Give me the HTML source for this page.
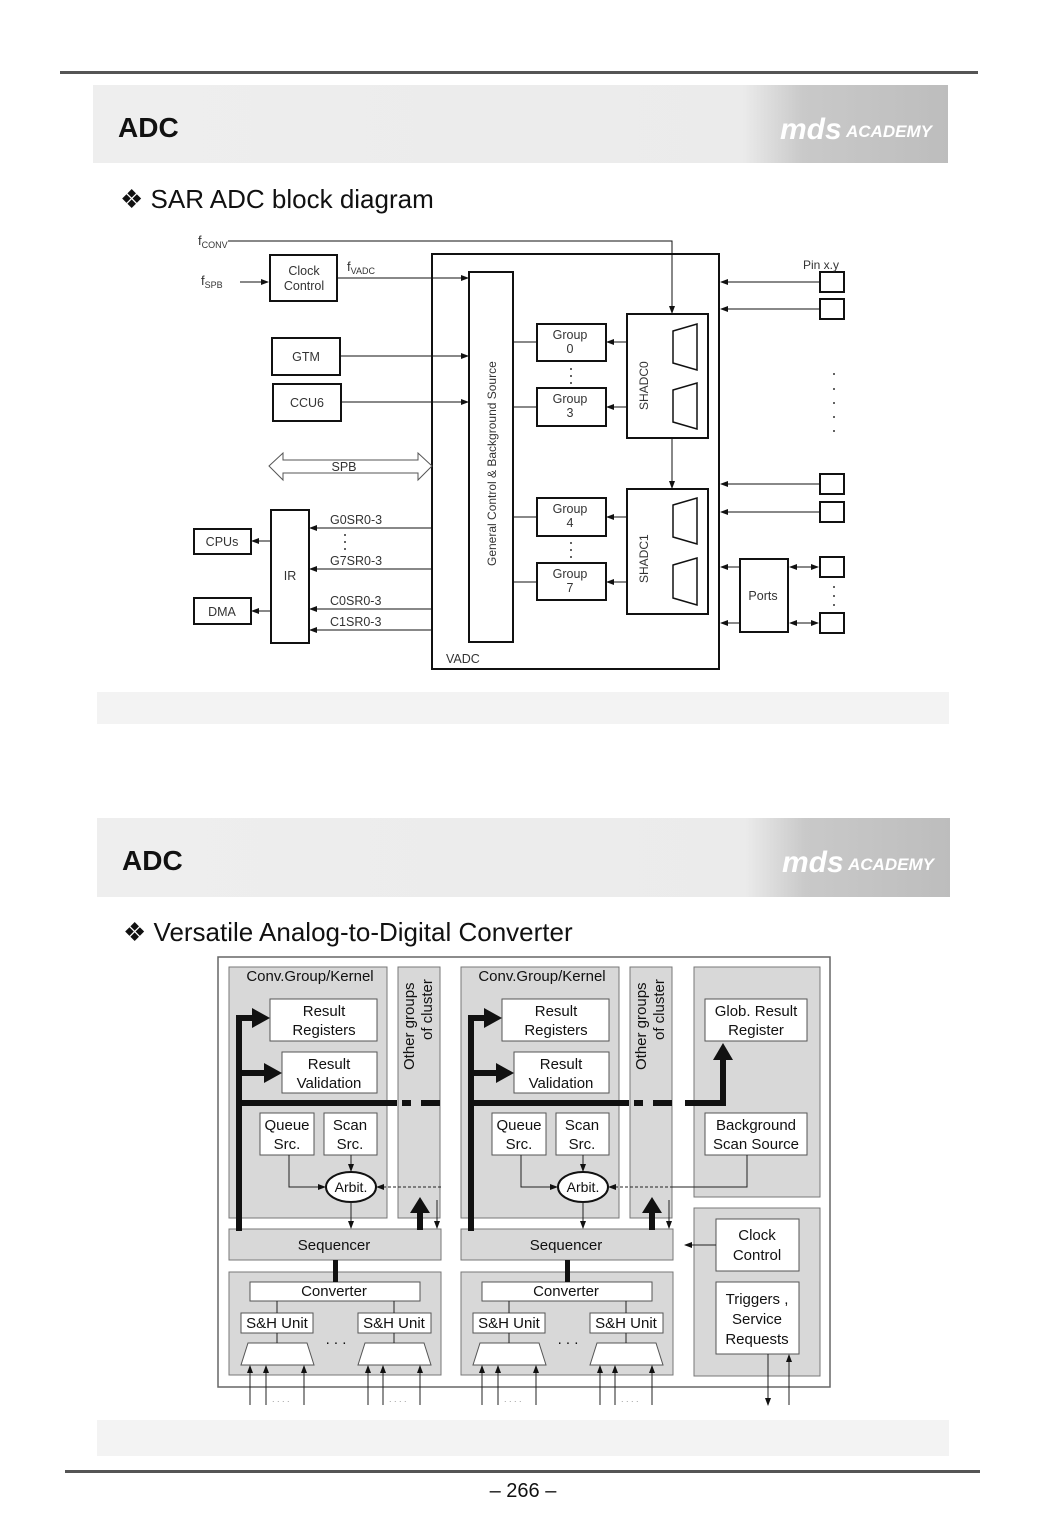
<!DOCTYPE html>
<html><head><meta charset="utf-8">
<style>
html,body{margin:0;padding:0;background:#fff;}
svg{display:block;}
text{font-family:"Liberation Sans",sans-serif;}
</style></head>
<body>
<svg width="1063" height="1534" viewBox="0 0 1063 1534" xmlns="http://www.w3.org/2000/svg">
<defs>
<marker id="a" markerWidth="8" markerHeight="8" refX="7" refY="4" orient="auto" markerUnits="userSpaceOnUse">
<path d="M0,1 L8,4 L0,7 z" fill="#111"/></marker>
<marker id="as" markerWidth="8" markerHeight="8" refX="1" refY="4" orient="auto" markerUnits="userSpaceOnUse">
<path d="M8,1 L0,4 L8,7 z" fill="#111"/></marker>
<linearGradient id="hg" x1="0" x2="1" y1="0" y2="0">
<stop offset="0" stop-color="#eeeeee"/><stop offset="0.76" stop-color="#ebebeb"/>
<stop offset="0.83" stop-color="#c9c9c9"/><stop offset="1" stop-color="#bdbdbd"/></linearGradient>
</defs>

<!-- top rule -->
<rect x="60" y="71" width="918" height="3" fill="#555"/>
<!-- header 1 -->
<rect x="93" y="85" width="855" height="78" fill="url(#hg)"/>
<text x="118" y="137" font-size="28" font-weight="bold" fill="#111" font-family="Liberation Sans Narrow,Liberation Sans,sans-serif">ADC</text>
<text x="780" y="139" font-size="30" font-weight="bold" font-style="italic" fill="#fff">mds</text>
<text x="846" y="137" font-size="17" font-weight="bold" font-style="italic" fill="#fff">ACADEMY</text>
<text x="120" y="208" font-size="26" fill="#111">❖ SAR ADC block diagram</text>

<!-- ===== top diagram ===== -->
<g stroke="#111" fill="none" stroke-width="1">
<!-- fCONV -->
<polyline points="228,241 672,241 672,313" marker-end="url(#a)"/>
<line x1="240" y1="282" x2="268" y2="282" marker-end="url(#a)"/>
<rect x="270" y="255" width="67" height="46" stroke-width="2"/>
<line x1="337" y1="278" x2="468" y2="278" marker-end="url(#a)"/>
<rect x="432" y="254" width="287" height="415" stroke-width="2"/>
<rect x="469" y="272" width="44" height="370" stroke-width="2"/>
<rect x="272" y="338" width="68" height="37" stroke-width="2"/>
<line x1="340" y1="356" x2="468" y2="356" marker-end="url(#a)"/>
<rect x="273" y="384" width="68" height="37" stroke-width="2"/>
<line x1="341" y1="402" x2="468" y2="402" marker-end="url(#a)"/>
<!-- SPB double arrow -->
<path d="M269,466 L283,453 L283,460 L418,460 L418,453 L432,466 L418,480 L418,473 L283,473 L283,480 Z" stroke="#555"/>
<!-- IR etc -->
<rect x="271" y="510" width="38" height="133" stroke-width="2"/>
<rect x="194" y="529" width="57" height="25" stroke-width="2"/>
<rect x="194" y="598" width="57" height="26" stroke-width="2"/>
<line x1="271" y1="541" x2="252" y2="541" marker-end="url(#a)"/>
<line x1="271" y1="611" x2="252" y2="611" marker-end="url(#a)"/>
<line x1="432" y1="528" x2="310" y2="528" marker-end="url(#a)"/>
<line x1="432" y1="569" x2="310" y2="569" marker-end="url(#a)"/>
<line x1="432" y1="609" x2="310" y2="609" marker-end="url(#a)"/>
<line x1="432" y1="630" x2="310" y2="630" marker-end="url(#a)"/>
<!-- groups -->
<rect x="537" y="324" width="69" height="37" stroke-width="2"/>
<rect x="537" y="388" width="69" height="38" stroke-width="2"/>
<rect x="537" y="498" width="69" height="38" stroke-width="2"/>
<rect x="537" y="563" width="69" height="37" stroke-width="2"/>
<line x1="513" y1="342" x2="537" y2="342"/>
<line x1="513" y1="407" x2="537" y2="407"/>
<line x1="513" y1="517" x2="537" y2="517"/>
<line x1="513" y1="582" x2="537" y2="582"/>
<line x1="627" y1="342" x2="607" y2="342" marker-end="url(#a)"/>
<line x1="627" y1="407" x2="607" y2="407" marker-end="url(#a)"/>
<line x1="627" y1="517" x2="607" y2="517" marker-end="url(#a)"/>
<line x1="627" y1="582" x2="607" y2="582" marker-end="url(#a)"/>
<!-- SHADC -->
<rect x="627" y="314" width="81" height="124" stroke-width="2"/>
<rect x="627" y="489" width="81" height="125" stroke-width="2"/>
<line x1="672" y1="438" x2="672" y2="488" marker-end="url(#a)"/>
<path d="M673,331 L697,324 L697,370 L673,363 Z" stroke-width="1.5"/>
<path d="M673,390 L697,383 L697,429 L673,422 Z" stroke-width="1.5"/>
<path d="M673,505 L697,498 L697,544 L673,537 Z" stroke-width="1.5"/>
<path d="M673,565 L697,558 L697,605 L673,598 Z" stroke-width="1.5"/>
<!-- pins -->
<rect x="820" y="272" width="24" height="20" stroke-width="2"/>
<rect x="820" y="299" width="24" height="20" stroke-width="2"/>
<rect x="820" y="474" width="24" height="20" stroke-width="2"/>
<rect x="820" y="502" width="24" height="20" stroke-width="2"/>
<rect x="820" y="557" width="24" height="20" stroke-width="2"/>
<rect x="820" y="613" width="24" height="20" stroke-width="2"/>
<line x1="820" y1="282" x2="721" y2="282" marker-end="url(#a)"/>
<line x1="820" y1="309" x2="721" y2="309" marker-end="url(#a)"/>
<line x1="820" y1="484" x2="721" y2="484" marker-end="url(#a)"/>
<line x1="820" y1="512" x2="721" y2="512" marker-end="url(#a)"/>
<rect x="740" y="559" width="48" height="73" stroke-width="2"/>
<line x1="740" y1="567" x2="721" y2="567" marker-end="url(#a)"/>
<line x1="740" y1="623" x2="721" y2="623" marker-end="url(#a)"/>
<line x1="790" y1="567" x2="818" y2="567" marker-start="url(#as)" marker-end="url(#a)"/>
<line x1="790" y1="623" x2="818" y2="623" marker-start="url(#as)" marker-end="url(#a)"/>
</g>
<g fill="#333" font-size="12.5" text-anchor="middle">
<text x="304" y="275">Clock</text><text x="304" y="290">Control</text>
<text x="306" y="361">GTM</text><text x="307" y="407">CCU6</text>
<text x="344" y="471">SPB</text>
<text x="290" y="580">IR</text>
<text x="222" y="546">CPUs</text><text x="222" y="616">DMA</text>
<text x="570" y="339">Group</text><text x="570" y="353">0</text>
<text x="570" y="403">Group</text><text x="570" y="417">3</text>
<text x="570" y="513">Group</text><text x="570" y="527">4</text>
<text x="570" y="578">Group</text><text x="570" y="592">7</text>
<text x="763" y="600">Ports</text>
</g>
<g fill="#333" font-size="12.5">
<text x="330" y="524">G0SR0-3</text><text x="330" y="565">G7SR0-3</text>
<text x="330" y="605">C0SR0-3</text><text x="330" y="626">C1SR0-3</text>
<text x="446" y="663">VADC</text>
<text x="803" y="269" font-size="12">Pin x.y</text>
<text x="198" y="245" font-size="13">f<tspan font-size="9" dy="3">CONV</tspan></text>
<text x="201" y="285" font-size="13">f<tspan font-size="9" dy="3">SPB</tspan></text>
<text x="347" y="271" font-size="13">f<tspan font-size="9" dy="3">VADC</tspan></text>
<text transform="translate(496,566) rotate(-90)" font-size="12">General Control &amp; Background Source</text>
<text transform="translate(648,410) rotate(-90)" font-size="12">SHADC0</text>
<text transform="translate(648,583) rotate(-90)" font-size="12">SHADC1</text>
</g>
<g fill="#333">
<circle cx="571" cy="369" r="1"/><circle cx="571" cy="376" r="1"/><circle cx="571" cy="383" r="1"/>
<circle cx="571" cy="543" r="1"/><circle cx="571" cy="550" r="1"/><circle cx="571" cy="557" r="1"/>
<circle cx="345" cy="535" r="1"/><circle cx="345" cy="542" r="1"/><circle cx="345" cy="549" r="1"/>
<circle cx="834" cy="374" r="1"/><circle cx="834" cy="389" r="1"/><circle cx="834" cy="403" r="1"/><circle cx="834" cy="417" r="1"/><circle cx="834" cy="431" r="1"/>
<circle cx="834" cy="587" r="1"/><circle cx="834" cy="596" r="1"/><circle cx="834" cy="605" r="1"/>
</g>

<!-- faint band -->
<rect x="97" y="692" width="852" height="32" fill="#f3f3f3"/>

<!-- header 2 -->
<rect x="97" y="818" width="853" height="79" fill="url(#hg)"/>
<text x="122" y="870" font-size="28" font-weight="bold" fill="#111">ADC</text>
<text x="782" y="872" font-size="30" font-weight="bold" font-style="italic" fill="#fff">mds</text>
<text x="848" y="870" font-size="17" font-weight="bold" font-style="italic" fill="#fff">ACADEMY</text>
<text x="123" y="941" font-size="26" fill="#111">❖ Versatile Analog-to-Digital Converter</text>

<!-- ===== bottom diagram ===== -->
<rect x="218" y="957" width="612" height="430" fill="#fff" stroke="#666" stroke-width="1.5"/>
<g id="grp">
<rect x="229" y="967" width="158" height="251" fill="#d8d8d8" stroke="#777"/>
<rect x="398" y="967" width="42" height="251" fill="#d8d8d8" stroke="#777"/>
<rect x="229" y="1229" width="212" height="31" fill="#d8d8d8" stroke="#777"/>
<rect x="229" y="1272" width="212" height="103" fill="#d8d8d8" stroke="#777"/>
<g fill="#fff" stroke="#555">
<rect x="270" y="999" width="107" height="42"/>
<rect x="282" y="1052" width="95" height="41"/>
<rect x="260" y="1113" width="54" height="42"/>
<rect x="324" y="1113" width="53" height="42"/>
<ellipse cx="351" cy="1187" rx="25" ry="15" stroke="#111" stroke-width="2"/>
<rect x="250" y="1282" width="170" height="19"/>
<rect x="241" y="1313" width="72" height="20"/>
<rect x="358" y="1313" width="73" height="20"/>
<path d="M248,1343 L307,1343 L314,1365 L241,1365 Z"/>
<path d="M365,1343 L424,1343 L431,1365 L358,1365 Z"/>
</g>
<g fill="#111" stroke="none">
<rect x="236" y="1100" width="161" height="6"/>
<rect x="402" y="1100" width="9" height="6"/><rect x="421" y="1100" width="19" height="6"/>
<rect x="236" y="1015" width="6" height="216"/>
<rect x="236" y="1015" width="18" height="6"/>
<path d="M252,1008 L270,1018 L252,1028 Z"/>
<rect x="239" y="1070" width="27" height="6"/>
<path d="M264,1063 L282,1073 L264,1083 Z"/>
<rect x="417" y="1210" width="6" height="20"/>
<path d="M410,1213 L420,1197 L430,1213 Z"/>
<rect x="333" y="1260" width="5" height="22"/>
</g>
<g stroke="#222" fill="none" stroke-width="1">
<polyline points="289,1155 289,1187 325,1187" marker-end="url(#a)"/>
<line x1="351" y1="1155" x2="351" y2="1171" marker-end="url(#a)"/>
<line x1="351" y1="1202" x2="351" y2="1228" marker-end="url(#a)"/>
<line x1="441" y1="1187" x2="377" y2="1187" stroke-dasharray="3,2" marker-end="url(#a)"/>
<line x1="437" y1="1200" x2="437" y2="1228" marker-end="url(#a)"/>
<line x1="277" y1="1301" x2="277" y2="1313"/><line x1="394" y1="1301" x2="394" y2="1313"/>
<line x1="277" y1="1333" x2="277" y2="1343"/><line x1="394" y1="1333" x2="394" y2="1343"/>
<line x1="250" y1="1405" x2="250" y2="1366" marker-end="url(#a)"/>
<line x1="266" y1="1405" x2="266" y2="1366" marker-end="url(#a)"/>
<line x1="304" y1="1405" x2="304" y2="1366" marker-end="url(#a)"/>
<line x1="368" y1="1405" x2="368" y2="1366" marker-end="url(#a)"/>
<line x1="383" y1="1405" x2="383" y2="1366" marker-end="url(#a)"/>
<line x1="420" y1="1405" x2="420" y2="1366" marker-end="url(#a)"/>
</g>
<g fill="#111" font-size="15" text-anchor="middle">
<text x="310" y="981">Conv.Group/Kernel</text>
<text x="324" y="1016">Result</text><text x="324" y="1035">Registers</text>
<text x="329" y="1069">Result</text><text x="329" y="1088">Validation</text>
<text x="287" y="1130">Queue</text><text x="287" y="1149">Src.</text>
<text x="350" y="1130">Scan</text><text x="350" y="1149">Src.</text>
<text x="351" y="1192" font-size="14">Arbit.</text>
<text x="334" y="1250">Sequencer</text>
<text x="334" y="1296">Converter</text>
<text x="277" y="1328">S&amp;H Unit</text>
<text x="394" y="1328">S&amp;H Unit</text>
<text x="336" y="1344">. . .</text>
<text transform="translate(414,1070) rotate(-90)" font-size="15" text-anchor="start">Other groups</text>
<text transform="translate(432,1040) rotate(-90)" font-size="15" text-anchor="start">of cluster</text>
</g>
<g fill="#999" font-size="9"><text x="272" y="1402">. . . .</text><text x="389" y="1402">. . . .</text></g>
</g>
<use href="#grp" transform="translate(232,0)"/>

<!-- right panels -->
<rect x="694" y="967" width="126" height="230" fill="#d8d8d8" stroke="#777"/>
<rect x="694" y="1208" width="126" height="168" fill="#d8d8d8" stroke="#777"/>
<g fill="#fff" stroke="#555">
<rect x="705" y="999" width="102" height="42"/>
<rect x="705" y="1113" width="102" height="42"/>
<rect x="716" y="1219" width="83" height="52"/>
<rect x="716" y="1282" width="83" height="72"/>
</g>
<g fill="#111" stroke="none">
<rect x="685" y="1100" width="41" height="6"/>
<rect x="720" y="1056" width="6" height="50"/>
<path d="M713,1060 L723,1043 L733,1060 Z"/>
</g>
<g stroke="#222" fill="none">
<polyline points="747,1155 747,1187 672,1187"/>
<line x1="716" y1="1245" x2="685" y2="1245" marker-end="url(#a)"/>
<line x1="768" y1="1354" x2="768" y2="1405" marker-end="url(#a)"/>
<line x1="789" y1="1405" x2="789" y2="1355" marker-end="url(#a)"/>
</g>
<g fill="#111" font-size="15" text-anchor="middle">
<text x="756" y="1016">Glob. Result</text><text x="756" y="1035">Register</text>
<text x="756" y="1130">Background</text><text x="756" y="1149">Scan Source</text>
<text x="757" y="1240">Clock</text><text x="757" y="1260">Control</text>
<text x="757" y="1304">Triggers ,</text><text x="757" y="1324">Service</text><text x="757" y="1344">Requests</text>
</g>

<!-- faint band 2 -->
<rect x="97" y="1420" width="852" height="36" fill="#f3f3f3"/>
<!-- footer -->
<rect x="65" y="1470" width="915" height="3" fill="#555"/>
<text x="523" y="1497" font-size="20" text-anchor="middle" fill="#111">– 266 –</text>
</svg>
</body></html>
